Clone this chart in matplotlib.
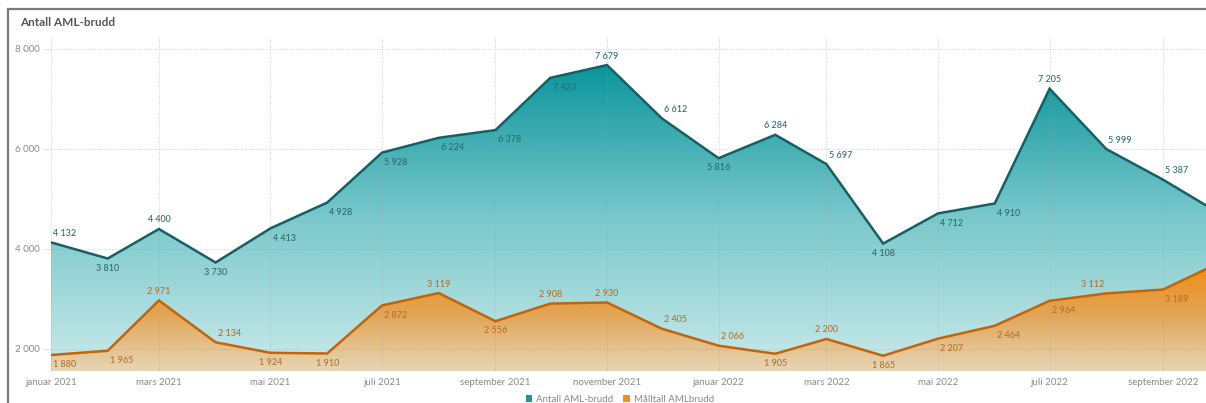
import matplotlib.pyplot as plt
import matplotlib.dates as mdates
import numpy as np
import pandas as pd
from matplotlib.colors import LinearSegmentedColormap
from matplotlib.patches import PathPatch, Patch, Rectangle
from matplotlib.ticker import FuncFormatter

plt.rcParams['font.family'] = ['Lato', 'DejaVu Sans']

months = ["2021-01", "2021-02", "2021-03", "2021-04", "2021-05", "2021-06",
          "2021-07", "2021-08", "2021-09", "2021-10", "2021-11", "2021-12",
          "2022-01", "2022-02", "2022-03", "2022-04", "2022-05", "2022-06",
          "2022-07", "2022-08", "2022-09", "2022-10"]
antall = [4132, 3810, 4400, 3730, 4413, 4928, 5928, 6224, 6378, 7423, 7679, 6612,
          5816, 6284, 5697, 4108, 4712, 4910, 7205, 5999, 5387, 4730]
maaltall = [1880, 1965, 2971, 2134, 1924, 1910, 2872, 3119, 2556, 2908, 2930, 2405,
            2066, 1905, 2200, 1865, 2207, 2464, 2964, 3112, 3189, 3710]
series_names = ["Antall AML-brudd", "Målltall AMLbrudd"]
month_names = ["januar", "februar", "mars", "april", "mai", "juni", "juli",
               "august", "september", "oktober", "november", "desember"]

# where each value label sits relative to its point
antall_pos = ['ar', 'b', 'a', 'b', 'br', 'br', 'br', 'br', 'br', 'br', 'a', 'ar',
              'b', 'a', 'ar', 'b', 'br', 'br', 'a', 'ar', 'ar', 'bl']
maal_pos = ['br', 'br', 'a', 'ar', 'b', 'b', 'br', 'a', 'b', 'a', 'a', 'ar',
            'ar', 'b', 'a', 'b', 'br', 'br', 'br', 'al', 'br', 'al']

YMIN, YMAX = 1560, 8260

dates = pd.to_datetime(months)
x = mdates.date2num(dates)

fig = plt.figure(figsize=(12.06, 4.03), dpi=100)
ax = fig.add_axes([51 / 1206, 32 / 403, 1 - 51 / 1206, 335 / 403])


def gradient_area(vals, colors, vtop, z):
    poly = ax.fill_between(x, vals, YMIN, color='none', lw=0)
    path = poly.get_paths()[0]
    patch = PathPatch(path, transform=ax.transData, facecolor='none', edgecolor='none')
    ax.add_patch(patch)
    cmap = LinearSegmentedColormap.from_list('g', colors)
    grad = np.linspace(1, 0, 256).reshape(-1, 1)
    im = ax.imshow(grad, cmap=cmap, aspect='auto', interpolation='bicubic',
                   extent=[x[0], x[-1], YMIN, vtop], zorder=z)
    im.set_clip_path(patch)


gradient_area(antall, ['#cbeaea', '#7ac8cb', '#0a959b'], 7700, 1)
gradient_area(maaltall, ['#e6d6b6', '#e2a658', '#f08a10'], 3750, 2)

# dotted grid on top of the fills
for v in [2000, 4000, 6000, 8000]:
    ax.axhline(v, color='#9a9a9a', lw=0.7, ls=(0, (1, 1.5)), alpha=0.45, zorder=3)
ticks = [d for d in pd.date_range("2021-01-01", "2022-09-01", freq="2MS")]
for d in ticks:
    ax.axvline(mdates.date2num(d), color='#9a9a9a', lw=0.7, ls=(0, (1, 1.5)),
               alpha=0.45, zorder=3)

ax.plot(x, antall, color='#175f66', lw=1.8, zorder=4, solid_joinstyle='miter')
ax.plot(x, maaltall, color='#c2640c', lw=1.8, zorder=4, solid_joinstyle='miter')


def fmt(v):
    return f"{v:,}".replace(",", " ")


def put_labels(vals, pos, color):
    for xi, v, p in zip(x, vals, pos):
        dy = 6.5 if p[0] == 'a' else -7
        dx = 0
        if len(p) > 1:
            dx = 10 if p[1] == 'r' else -10
        ax.annotate(fmt(v), (xi, v), xytext=(dx, dy), textcoords='offset points',
                    ha='center', va='center', fontsize=6.5, color=color,
                    fontweight='medium', zorder=5)


put_labels(antall, antall_pos, '#2b6a70')
put_labels(maaltall, maal_pos, '#b3702a')

start = mdates.date2num(pd.Timestamp("2021-01-01"))
span = (mdates.date2num(pd.Timestamp("2022-09-01")) - start) / 1112
ax.set_xlim(start, start + span * (1206 - 51))
ax.set_ylim(YMIN, YMAX)

ax.set_xticks([mdates.date2num(d) for d in ticks])
ax.xaxis.set_major_formatter(FuncFormatter(
    lambda v, _: f"{month_names[mdates.num2date(v).month - 1]} {mdates.num2date(v).year}"))
ax.set_yticks([2000, 4000, 6000, 8000])
ax.yaxis.set_major_formatter(FuncFormatter(lambda v, _: fmt(int(v))))
ax.tick_params(axis='x', length=0, pad=5, labelsize=7, labelcolor='#8a8a8a')
ax.tick_params(axis='y', length=6, width=0.6, color='#dddddd', pad=2,
               labelsize=7, labelcolor='#8a8a8a')
for s in ax.spines.values():
    s.set_visible(False)

fig.text(20 / 1206, 1 - 22 / 403, "Antall AML-brudd", fontsize=8.5, fontweight='bold',
         color='#555555', va='center', ha='left')

# card border
fig.patches.append(Rectangle((8 / 1206, -0.1), 1.2, 1.1 - 9 / 403, transform=fig.transFigure,
                             fill=False, edgecolor='#7a7a7a', lw=1.6, clip_on=False))

handles = [Patch(facecolor='#1a9aa0', edgecolor='none'),
           Patch(facecolor='#f0901e', edgecolor='none')]
fig.legend(handles, series_names, loc='center', bbox_to_anchor=(0.514, 0.009),
           ncol=2, frameon=False, fontsize=7, labelcolor='#8a8a8a',
           handlelength=0.7, handleheight=0.7, handletextpad=0.4, columnspacing=1.0)

fig.savefig("out.png", dpi=100)
